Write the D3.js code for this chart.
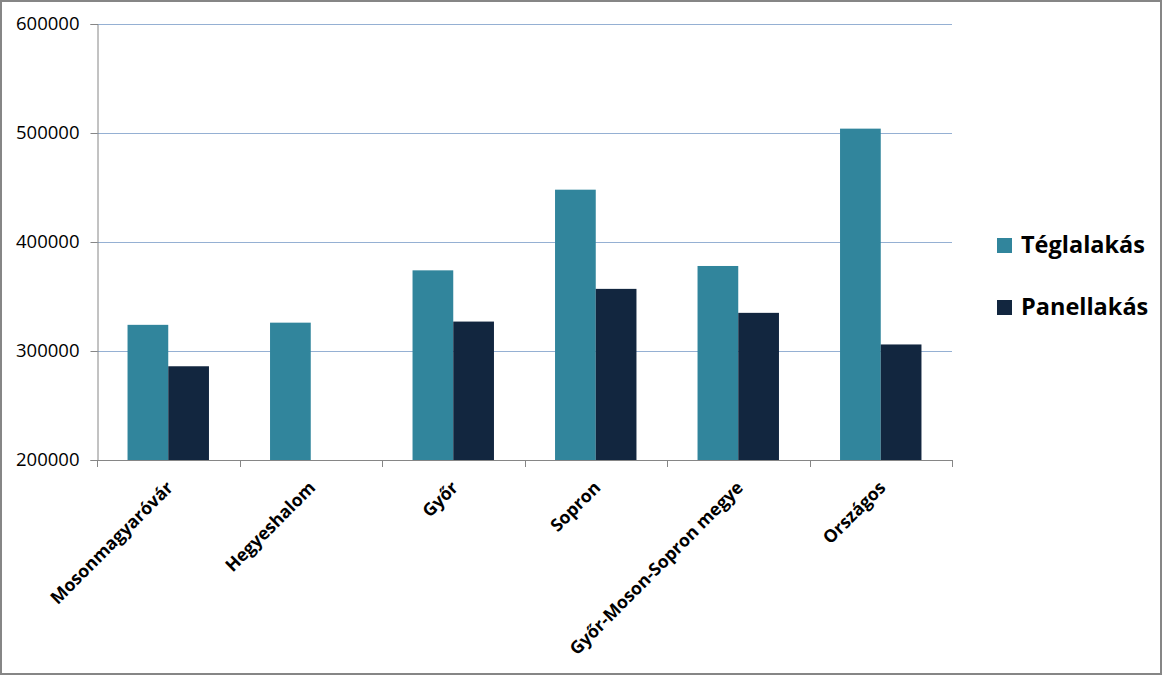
<!DOCTYPE html>
<html><head><meta charset="utf-8">
<script src="https://cdn.jsdelivr.net/npm/d3@7/dist/d3.min.js"></script>
<style>
html,body{margin:0;padding:0;background:#fff;}
svg{display:block;}
</style></head>
<body>
<svg id="chart" width="1162" height="675"></svg>
<script>
const categories = ["Mosonmagyaróvár","Hegyeshalom","Győr","Sopron","Győr-Moson-Sopron megye","Országos"];
const seriesNames = ["Téglalakás","Panellakás"];
const teglalakas = [324000, 326000, 374000, 448000, 378000, 504000];
const panellakas = [286000, null, 327000, 357000, 335000, 306000];
const yTicks = [200000, 300000, 400000, 500000, 600000];
const colors = ["#31859C", "#12263F"];

const svg = d3.select("#chart");
const W = 1162, H = 675;
const m = {left: 97, right: 952, top: 24, bottom: 460};

svg.append("rect").attr("x",1).attr("y",1).attr("width",W-2).attr("height",H-2)
  .attr("fill","#fff").attr("stroke","#868686").attr("stroke-width",2);

const x0 = d3.scaleBand().domain(categories).range([m.left, m.right]).paddingInner(0).paddingOuter(0);
const x1 = d3.scaleBand().domain(seriesNames).range([0, x0.bandwidth()]).paddingInner(0).paddingOuter(0.75);
const y = d3.scaleLinear().domain([200000, 600000]).range([m.bottom, m.top]);

// gridlines
svg.append("g").selectAll("line").data(yTicks.filter(t => t > 200000)).join("line")
  .attr("x1", m.left).attr("x2", m.right)
  .attr("y1", d => Math.round(y(d)) + 0.5).attr("y2", d => Math.round(y(d)) + 0.5)
  .attr("stroke", "#95B0D3").attr("stroke-width", 1);

// bars
const series = [teglalakas, panellakas];
const g = svg.append("g");
series.forEach((vals, si) => {
  g.selectAll(null).data(categories.map((c, i) => ({c, v: vals[i]})).filter(d => d.v != null))
    .join("rect")
    .attr("x", d => x0(d.c) + x1(seriesNames[si]))
    .attr("width", x1.bandwidth())
    .attr("y", d => y(d.v))
    .attr("height", d => y(200000) - y(d.v))
    .attr("fill", colors[si]);
});

// y axis
const yAxis = d3.axisLeft(y).tickValues(yTicks).tickFormat(d3.format("d")).tickSizeOuter(0).tickSize(7).tickPadding(11);
const ya = svg.append("g").attr("transform", `translate(${m.left + 0.5},0)`).call(yAxis);
ya.select(".domain").attr("stroke", "#868686");
ya.selectAll(".tick line").attr("stroke", "#868686");
ya.selectAll(".tick text").attr("font-family", "'Open Sans', sans-serif").attr("font-size", 18.5).attr("fill", "#000");

// x axis line & ticks
const xa = svg.append("g");
xa.append("line").attr("x1", m.left).attr("x2", m.right)
  .attr("y1", m.bottom + 0.5).attr("y2", m.bottom + 0.5).attr("stroke", "#868686");
const bounds = categories.map(c => x0(c)).concat([m.right]);
xa.selectAll("line.t").data(bounds).join("line").attr("class","t")
  .attr("x1", d => Math.round(d) + 0.5).attr("x2", d => Math.round(d) + 0.5)
  .attr("y1", m.bottom).attr("y2", m.bottom + 7).attr("stroke", "#868686");
xa.selectAll("text").data(categories).join("text")
  .attr("transform", d => `translate(${x0(d) + x0.bandwidth()/2 - 3},${m.bottom + 20}) rotate(-45)`)
  .attr("text-anchor", "end").attr("dy", "0.71em")
  .attr("font-family", "'Open Sans', sans-serif").attr("font-weight", "bold").attr("font-size", 17.6)
  .attr("fill", "#000").text(d => d);

// legend
const lg = svg.append("g");
seriesNames.forEach((s, i) => {
  const yy = 245 + i * 62;
  lg.append("rect").attr("x", 997).attr("y", yy - 7).attr("width", 15).attr("height", 15).attr("fill", colors[i]);
  lg.append("text").attr("x", 1021).attr("y", yy).attr("dy", "0.35em")
    .attr("font-family", "'Open Sans', sans-serif").attr("font-weight", "bold").attr("font-size", 23.5)
    .attr("fill", "#000").text(s);
});
</script>
</body></html>
